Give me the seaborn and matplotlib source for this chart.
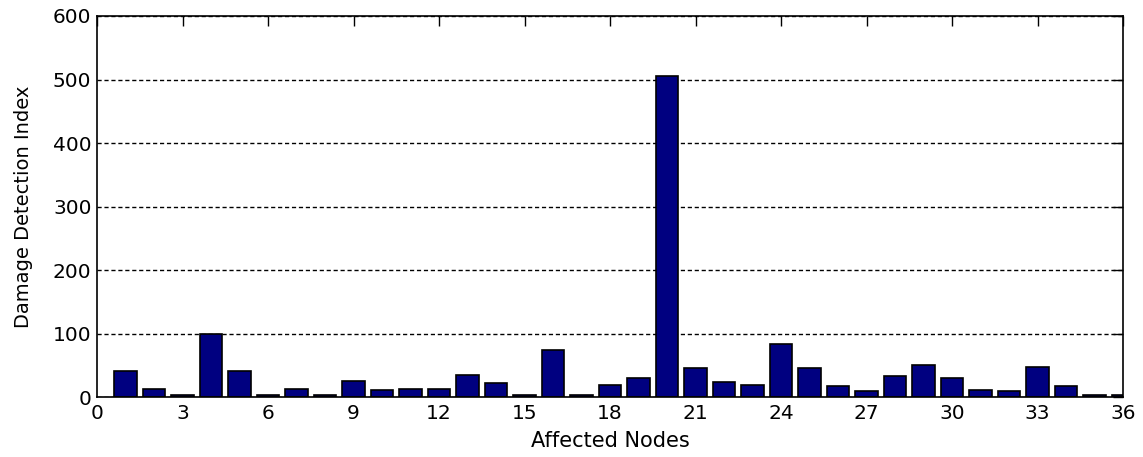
import matplotlib
matplotlib.use("Agg")
import matplotlib.pyplot as plt
import seaborn as sns
import pandas as pd
import numpy as np

nodes = list(range(1, 37))
values = [41, 13, 4, 100, 41, 4, 13, 4, 26, 11, 13, 13,
          35, 22, 4, 74, 4, 19, 30, 505, 46, 24, 19, 83,
          46, 17, 9, 33, 50, 30, 11, 9, 48, 17, 4, 4]
x_ticks = list(range(0, 37, 3))
y_ticks = [0, 100, 200, 300, 400, 500, 600]

sns.set_style("white")
plt.rcParams['font.family'] = ['DejaVu Sans']
plt.rcParams['text.color'] = 'black'
plt.rcParams['axes.labelcolor'] = 'black'

fig = plt.figure(figsize=(11.43, 4.57), dpi=100)
ax = fig.add_axes([0.0849, 0.131, 0.8976, 0.834])

df = pd.DataFrame({"node": nodes, "value": values})
sns.barplot(data=df, x="node", y="value", native_scale=True, width=0.8,
            color="#000080", saturation=1, edgecolor="black", linewidth=1.2, ax=ax)

ax.set_xlim(0, 36)
ax.set_ylim(0, 600)
ax.set_xticks(x_ticks)
ax.set_yticks(y_ticks)
ax.tick_params(axis="both", direction="in", length=7, width=1, labelsize=14.5,
               top=True, right=True, colors="black", pad=4)
ax.tick_params(axis="x", pad=5)
ax.yaxis.grid(True, linestyle=(0, (3, 2)), color="black", linewidth=1.0)
ax.xaxis.grid(False)
ax.set_axisbelow(True)
for s in ax.spines.values():
    s.set_visible(True)
    s.set_color("black")
    s.set_linewidth(1.2)
ax.set_xlabel("Affected Nodes", fontsize=15, labelpad=6, color="black")
ax.set_ylabel("Damage Detection Index", fontsize=14, labelpad=14, color="black")

fig.savefig("out.png", dpi=100, facecolor="white")
